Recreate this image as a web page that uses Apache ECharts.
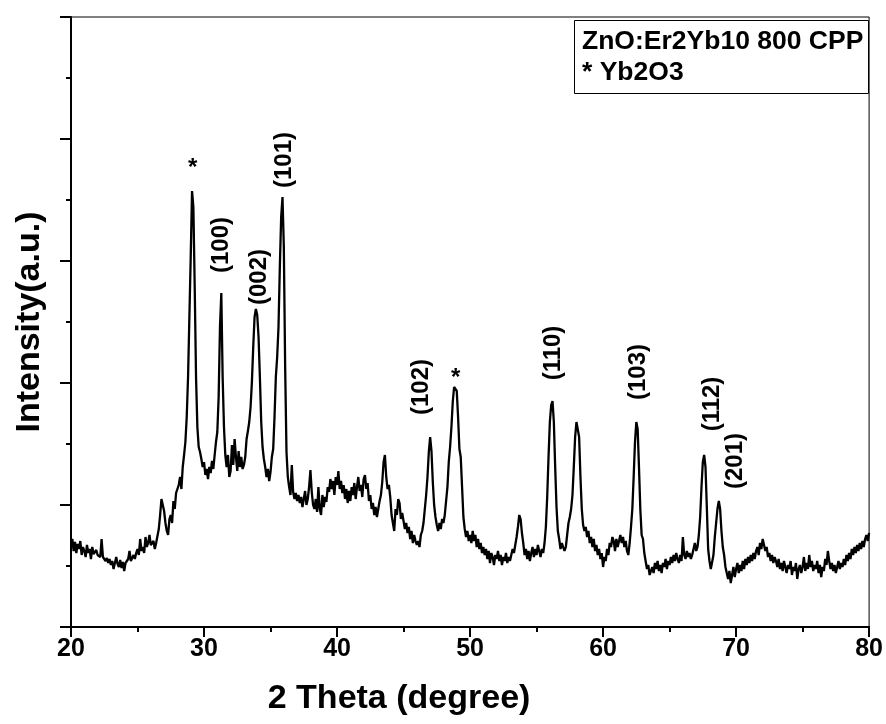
<!DOCTYPE html>
<html>
<head>
<meta charset="utf-8">
<script src="https://cdn.jsdelivr.net/npm/echarts@6/dist/echarts.min.js"></script>
<style>
  html, body { margin: 0; padding: 0; background: #fff; }
  #chart { width: 886px; height: 724px; }
</style>
</head>
<body>
<div id="chart"></div>
<script>
// XRD scan: 2theta from 20 to 80 deg, 0.1 deg step, intensity in a.u.
var scanStart = 20;
var scanStep = 0.1;
var intensity = [
  80,88,76,85,74,83,78,86,72,80,      // 20
  76,70,82,74,78,68,80,73,71,77,      // 21
  72,74,70,88,70,72,66,69,64,68,      // 22
  62,66,58,64,70,63,60,67,59,65,      // 23
  56,64,62,68,76,66,64,72,68,74,      // 24
  78,72,88,76,80,74,90,80,84,92,      // 25
  82,80,86,78,84,82,98,112,128,122,   // 26
  116,104,96,92,108,112,104,126,118,134, // 27
  136,142,150,138,160,172,185,210,250,310, // 28
  370,436,420,340,250,200,180,175,168,160, // 29
  165,152,158,148,160,154,166,158,172,185, // 30
  195,230,300,334,250,200,172,160,172,150, // 31
  156,182,162,188,170,156,176,160,170,158, // 32
  162,170,188,196,205,220,245,280,310,318, // 33
  312,290,250,205,180,168,160,150,158,146, // 34
  155,170,178,210,250,270,300,360,410,430, // 35
  380,260,175,150,140,132,162,135,128,134, // 36
  126,132,124,130,120,128,136,122,128,140, // 37
  157,135,122,118,128,115,140,118,112,132, // 38
  120,130,125,140,135,148,138,146,132,150, // 39
  142,156,138,146,134,142,128,138,124,136, // 40
  126,140,132,144,128,140,150,136,142,130, // 41
  148,152,138,144,126,132,118,124,112,120, // 42
  110,118,126,132,145,165,172,150,138,142, // 43
  130,112,104,96,118,112,128,124,108,114,  // 44
  106,98,104,94,100,88,96,84,92,86,        // 45
  82,86,80,92,96,104,118,132,150,175,      // 46
  190,176,145,122,110,102,96,104,98,108,   // 47
  104,112,110,140,165,180,200,225,240,242, // 48
  236,210,178,170,140,110,98,90,96,86,     // 49
  92,84,96,86,92,80,88,78,84,74,           // 50
  80,72,78,68,76,64,74,70,62,72,           // 51
  68,76,66,72,62,70,66,74,64,70,           // 52
  66,72,78,74,82,90,100,112,108,94,        // 53
  84,72,78,68,76,66,74,80,70,78,           // 54
  72,82,76,70,78,74,84,100,130,170,        // 55
  205,222,226,205,160,120,96,88,78,84,     // 56
  82,76,80,92,104,110,118,132,160,190,     // 57
  205,207,190,150,118,102,96,100,90,96,    // 58
  84,90,80,88,76,82,72,78,68,74,           // 59
  60,70,66,78,72,84,80,90,86,76,           // 60
  88,80,86,92,84,90,80,86,76,72,           // 61
  84,100,118,150,185,205,198,160,118,92,   // 62
  88,74,66,58,62,52,50,60,54,64,           // 63
  58,66,56,62,54,64,60,68,58,66,           // 64
  62,70,64,72,66,74,68,64,72,66,           // 65
  90,72,68,76,70,74,68,72,78,84,           // 66
  76,80,92,110,140,165,172,160,120,78,     // 67
  66,58,60,72,90,104,118,126,118,96,       // 68
  80,72,60,54,48,56,44,52,60,50,           // 69
  58,64,54,62,56,66,58,68,62,70,           // 70
  64,72,66,74,68,76,80,72,84,78,           // 71
  88,82,76,80,70,74,66,72,64,70,           // 72
  66,60,68,58,64,56,66,60,54,62,           // 73
  58,66,52,60,56,64,48,58,62,54,           // 74
  60,70,56,64,58,72,60,66,56,62,           // 75
  58,66,54,62,50,60,56,68,62,76,           // 76
  66,58,64,56,62,54,60,66,58,64,           // 77
  60,68,62,72,66,74,68,78,72,80,           // 78
  74,82,76,84,78,86,80,88,92,86,           // 79
  94                                       // 80
];

// peak annotations (label centre in data coords)
var peakText  = ['*', '(100)', '(002)', '(101)', '(102)', '*', '(110)', '(103)', '(112)', '(201)'];
var peakTheta = [29.14, 31.31, 34.16, 36.03, 46.37, 48.91, 56.25, 62.62, 68.24, 69.96];
var peakLabelY = [459, 382, 350, 467, 240, 249, 274, 255, 223, 166];

var xTicks = { min: 20, max: 80, step: 10 };

var lineData = [];
for (var i = 0; i < intensity.length; i++) {
    lineData.push([+(scanStart + i * scanStep).toFixed(1), intensity[i]]);
}

var markData = [];
for (var j = 0; j < peakText.length; j++) {
    markData.push({
        coord: [peakTheta[j], peakLabelY[j]],
        label: {
            formatter: peakText[j],
            rotate: peakText[j] === '*' ? 0 : 90
        }
    });
}

var font = 'Liberation Sans, Arial, sans-serif';
var chart = echarts.init(document.getElementById('chart'));
var option = {
    animation: false,
    backgroundColor: '#fff',
    title: {
        text: 'ZnO:Er2Yb10 800 CPP\n* Yb2O3',
        left: 574,
        top: 20,
        padding: [6, 5, 6, 8],
        borderColor: '#000',
        borderWidth: 1,
        backgroundColor: '#fff',
        textStyle: {
            fontFamily: font,
            fontWeight: 'bold',
            fontSize: 26.5,
            lineHeight: 31,
            color: '#000'
        }
    },
    grid: {
        left: 71,
        right: 15,
        top: 17,
        bottom: 97,
        show: true,
        borderColor: '#000',
        borderWidth: 1
    },
    xAxis: {
        type: 'value',
        min: xTicks.min,
        max: xTicks.max,
        interval: xTicks.step,
        name: '2 Theta (degree)',
        nameLocation: 'middle',
        nameGap: 55,
        nameTextStyle: {
            fontFamily: font, fontWeight: 'bold', fontSize: 34, color: '#000',
            padding: [0, 142, 0, 0]
        },
        axisLine: { onZero: false, lineStyle: { color: '#000', width: 2 } },
        axisTick: { inside: false, length: 10, lineStyle: { color: '#000', width: 2 } },
        minorTick: { show: true, splitNumber: 2, length: 5, lineStyle: { color: '#000', width: 2 } },
        axisLabel: { fontFamily: font, fontWeight: 'bold', fontSize: 25, color: '#000', margin: 10 },
        splitLine: { show: false }
    },
    yAxis: {
        type: 'value',
        min: 0,
        max: 610,
        interval: 122,
        name: 'Intensity(a.u.)',
        nameLocation: 'middle',
        nameGap: 24,
        nameTextStyle: { fontFamily: font, fontWeight: 'bold', fontSize: 34, color: '#000' },
        axisLine: { show: true, lineStyle: { color: '#000', width: 2 } },
        axisTick: { show: true, inside: false, length: 11, lineStyle: { color: '#000', width: 2 } },
        minorTick: { show: true, splitNumber: 2, length: 5, lineStyle: { color: '#000', width: 2 } },
        axisLabel: { show: false },
        splitLine: { show: false }
    },
    series: [{
        type: 'line',
        data: lineData,
        showSymbol: false,
        lineStyle: { color: '#000', width: 2.3 },
        markPoint: {
            symbol: 'circle',
            symbolSize: 0,
            silent: true,
            label: {
                show: true,
                position: 'inside',
                fontFamily: font,
                fontWeight: 'bold',
                fontSize: 24,
                color: '#000'
            },
            data: markData
        }
    }]
};
chart.setOption(option);
</script>
</body>
</html>
